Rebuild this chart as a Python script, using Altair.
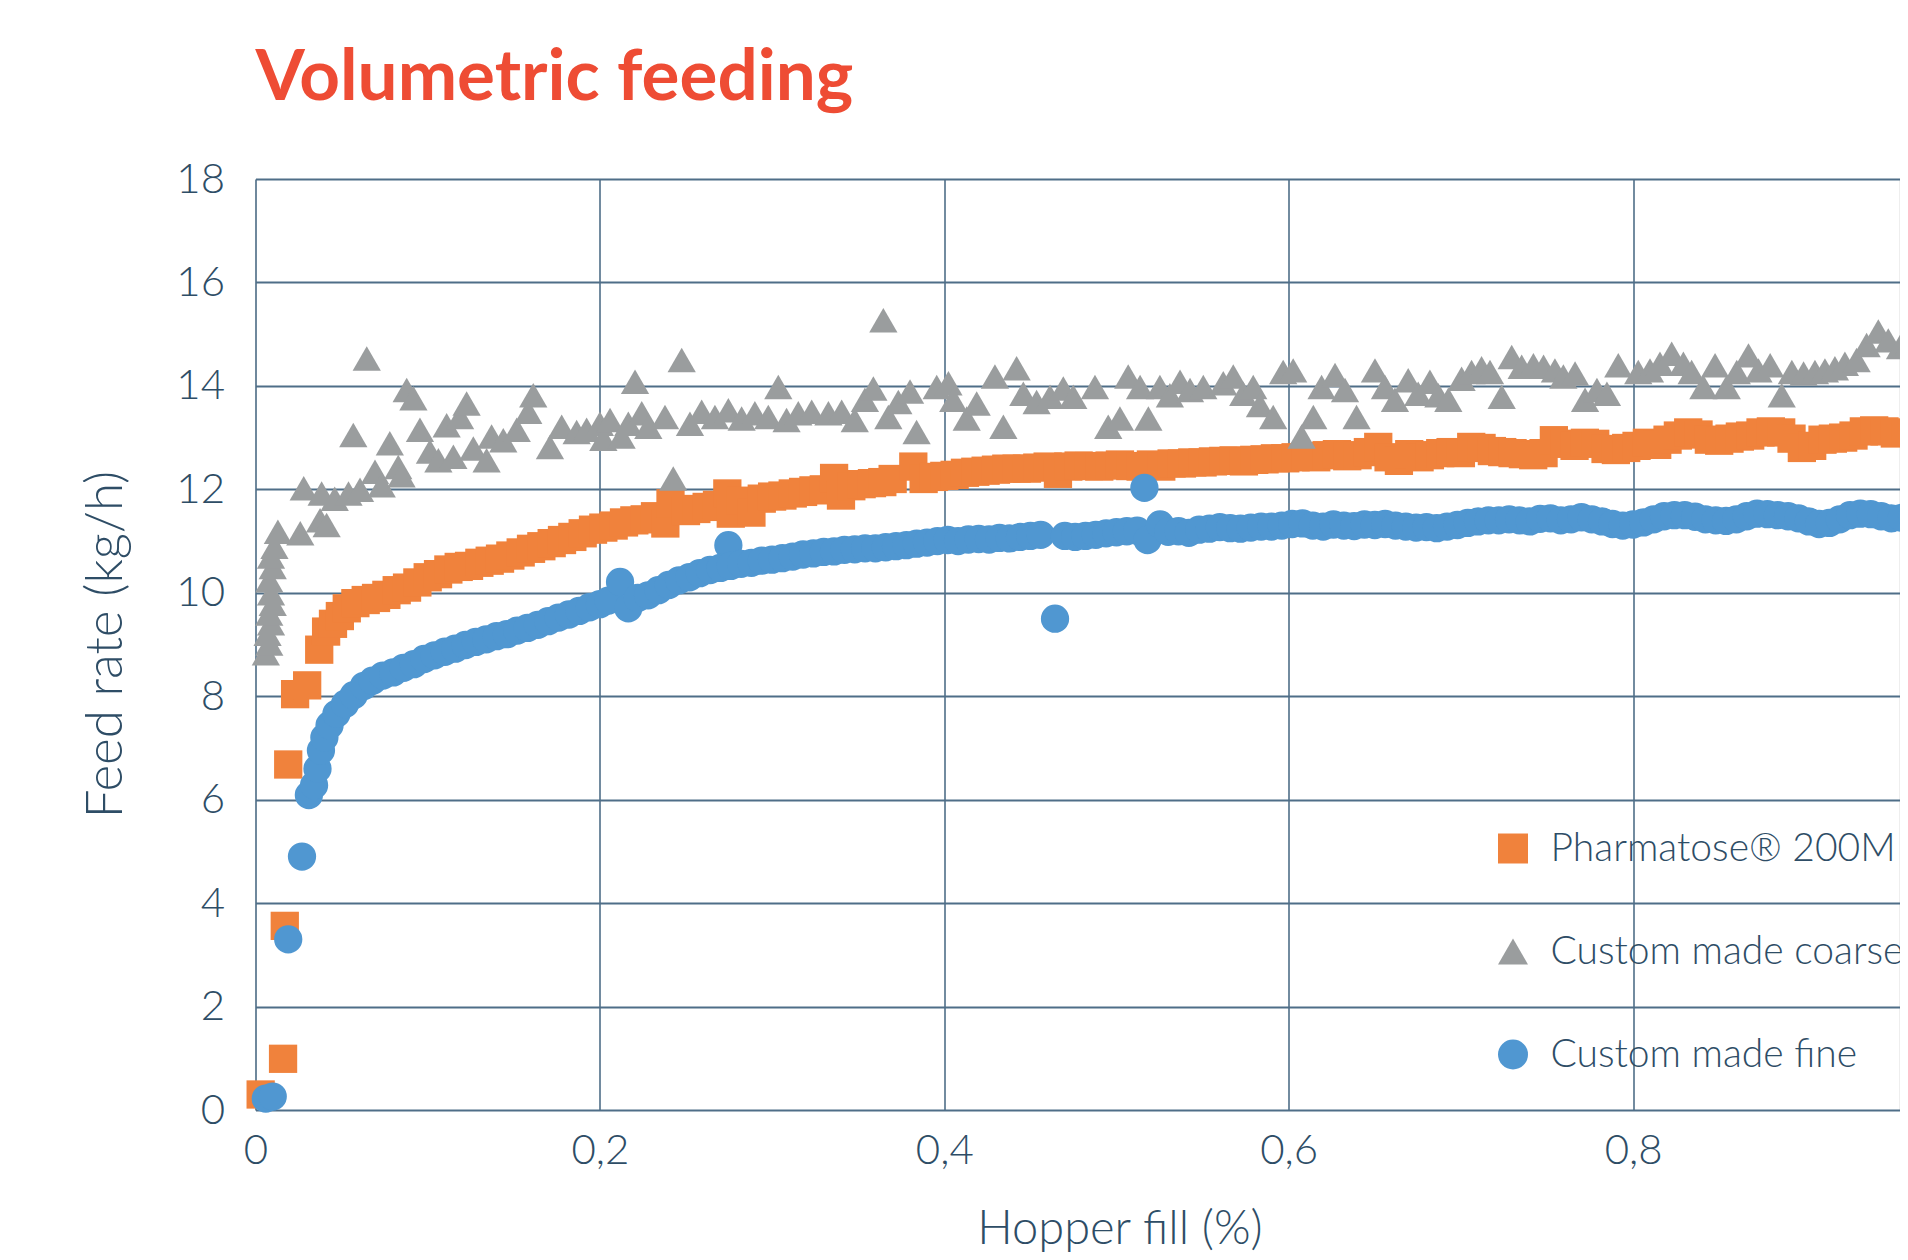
import altair as alt
import pandas as pd

# ---------------- data ----------------
series_names = ["Pharmatose® 200M", "Custom made coarse", "Custom made fine"]
series_colors = ["#F0823C", "#9A9D9E", "#5097D1"]
series_shapes = ["square", "triangle-up", "circle"]

pharma_x = [0.003, 0.016, 0.017, 0.019, 0.023, 0.030, 0.037, 0.041, 0.045, 0.049, 0.053, 0.058,
            0.064, 0.070, 0.076, 0.082, 0.088, 0.094, 0.100, 0.106, 0.112, 0.118, 0.124, 0.130,
            0.136, 0.142, 0.148, 0.154, 0.160, 0.166, 0.172, 0.178, 0.184, 0.190, 0.196, 0.202,
            0.208, 0.214, 0.220, 0.226, 0.232, 0.238, 0.241, 0.250, 0.256, 0.262, 0.268, 0.274,
            0.276, 0.282, 0.288, 0.294, 0.300, 0.306, 0.312, 0.318, 0.324, 0.330, 0.336, 0.340,
            0.346, 0.352, 0.358, 0.364, 0.370, 0.382, 0.388, 0.394, 0.400, 0.406, 0.412, 0.418,
            0.424, 0.430, 0.436, 0.442, 0.448, 0.454, 0.460, 0.466, 0.472, 0.478, 0.484, 0.490,
            0.496, 0.502, 0.508, 0.514, 0.520, 0.526, 0.532, 0.538, 0.544, 0.550, 0.556, 0.562,
            0.568, 0.574, 0.580, 0.586, 0.592, 0.598, 0.604, 0.610, 0.616, 0.622, 0.628, 0.634,
            0.640, 0.646, 0.652, 0.658, 0.664, 0.670, 0.676, 0.682, 0.688, 0.694, 0.700, 0.706,
            0.712, 0.718, 0.724, 0.730, 0.736, 0.742, 0.748, 0.754, 0.760, 0.766, 0.772, 0.778,
            0.784, 0.790, 0.796, 0.802, 0.808, 0.814, 0.820, 0.826, 0.832, 0.838, 0.844, 0.850,
            0.856, 0.862, 0.868, 0.874, 0.880, 0.886, 0.892, 0.898, 0.904, 0.910, 0.916, 0.922,
            0.928, 0.934, 0.940, 0.946, 0.952, 0.958]
pharma_y = [0.30, 0.99, 3.56, 6.68, 8.04, 8.21, 8.90, 9.25, 9.40, 9.55, 9.70, 9.80,
            9.86, 9.90, 9.96, 10.05, 10.10, 10.20, 10.30, 10.36, 10.45, 10.50, 10.52, 10.58,
            10.62, 10.66, 10.72, 10.78, 10.85, 10.90, 10.96, 11.02, 11.08, 11.15, 11.22, 11.26,
            11.30, 11.36, 11.40, 11.42, 11.48, 11.34, 11.73, 11.58, 11.62, 11.66, 11.70, 11.92,
            11.53, 11.78, 11.55, 11.82, 11.86, 11.88, 11.92, 11.95, 11.98, 12.00, 12.22, 11.88,
            12.06, 12.10, 12.12, 12.14, 12.20, 12.44, 12.20, 12.24, 12.26, 12.28, 12.32, 12.34,
            12.36, 12.38, 12.40, 12.40, 12.40, 12.42, 12.44, 12.30, 12.44, 12.46, 12.45, 12.44,
            12.46, 12.48, 12.45, 12.44, 12.48, 12.44, 12.50, 12.50, 12.52, 12.52, 12.54, 12.55,
            12.56, 12.54, 12.57, 12.58, 12.60, 12.60, 12.62, 12.64, 12.62, 12.66, 12.68, 12.64,
            12.66, 12.72, 12.82, 12.62, 12.55, 12.68, 12.62, 12.66, 12.70, 12.72, 12.70, 12.82,
            12.80, 12.74, 12.72, 12.70, 12.68, 12.66, 12.70, 12.95, 12.88, 12.84, 12.90, 12.88,
            12.78, 12.76, 12.80, 12.84, 12.90, 12.86, 12.96, 13.04, 13.10, 13.06, 12.96, 12.94,
            12.98, 13.02, 13.04, 13.10, 13.12, 13.10, 12.98, 12.80, 12.84, 12.96, 12.98, 13.00,
            13.04, 13.12, 13.14, 13.12, 13.08, 13.10]

coarse_x = [0.006, 0.008, 0.007, 0.009, 0.008, 0.010, 0.009, 0.008, 0.010, 0.009, 0.011, 0.013,
            0.026, 0.028, 0.0375, 0.0384, 0.0413, 0.046, 0.054, 0.0568, 0.0607, 0.0646, 0.0694,
            0.0733, 0.078, 0.0829, 0.0848, 0.0878, 0.0917, 0.0955, 0.1013, 0.1062, 0.111, 0.1149,
            0.1188, 0.1226, 0.1265, 0.1342, 0.1371, 0.1439, 0.1517, 0.1584, 0.1613, 0.171, 0.1778,
            0.1865, 0.1923, 0.200, 0.202,
            0.2059, 0.2126, 0.2165, 0.2204, 0.2243, 0.2281, 0.2378, 0.2426, 0.2475, 0.2523,
            0.2591, 0.2668, 0.2746, 0.2823, 0.290, 0.2978, 0.3036, 0.3084, 0.3152, 0.323, 0.3327,
            0.3404, 0.348, 0.3539, 0.3588, 0.3646, 0.3675, 0.3733, 0.3801, 0.3839, 0.3956, 0.4024,
            0.4052, 0.413, 0.4188, 0.4294, 0.4343, 0.442, 0.4459, 0.4536, 0.4614, 0.4691, 0.4749,
            0.4875, 0.4952, 0.502, 0.5068, 0.5137, 0.5185, 0.5252, 0.531, 0.5369, 0.5427, 0.5504,
            0.562, 0.5678, 0.5736, 0.5794, 0.5833, 0.591, 0.5968, 0.6026,
            0.6075, 0.6143, 0.6191, 0.6269, 0.6327, 0.6394, 0.6501, 0.6559, 0.6617, 0.6694,
            0.6752, 0.682, 0.6869, 0.6927, 0.7004, 0.7062, 0.712, 0.7169, 0.7237, 0.7295, 0.7353,
            0.7421, 0.748, 0.7546, 0.7595, 0.7663, 0.7721, 0.779, 0.7848, 0.7914, 0.803,
            0.8098, 0.8156, 0.8224, 0.8292, 0.834, 0.8408, 0.8476, 0.8544, 0.8602, 0.867, 0.8728,
            0.8796, 0.8863, 0.8922, 0.899, 0.9056, 0.9114, 0.9172, 0.923, 0.9298, 0.9356, 0.9424,
            0.9482, 0.955, 0.9597]
coarse_y = [8.83, 9.02, 9.21, 9.41, 9.60, 9.79, 9.99, 10.24, 10.50, 10.70, 10.89, 11.18,
            11.15, 12.02, 11.40, 11.92, 11.31, 11.82, 11.92, 13.05, 11.99, 14.53, 12.34,
            12.08, 12.89, 12.43, 12.27, 13.92, 13.76, 13.15, 12.73, 12.56, 13.24, 12.63,
            13.40, 13.66, 12.79, 12.56, 13.02, 12.95, 13.15, 13.50, 13.82, 12.82, 13.21,
            13.11, 13.15, 13.27, 12.98,
            13.34, 13.02, 13.27, 14.08, 13.47, 13.21, 13.40, 12.21, 14.50, 13.27,
            13.50, 13.40, 13.53, 13.37, 13.47, 13.40, 13.98, 13.34, 13.47, 13.50, 13.47,
            13.50, 13.34, 13.73, 13.95, 15.27, 13.40, 13.69, 13.89, 13.11, 13.98, 14.05,
            13.73, 13.37, 13.66, 14.18, 13.21, 14.34, 13.85, 13.69, 13.79, 13.95, 13.79,
            13.98, 13.21, 13.37, 14.18, 13.98, 13.37, 13.98, 13.82, 14.08, 13.92, 13.98,
            14.05, 14.18, 13.85, 13.98, 13.63, 13.40, 14.27, 14.30,
            13.02, 13.40, 13.98, 14.21, 13.92, 13.40, 14.30, 13.98, 13.73, 14.11,
            13.85, 14.08, 13.82, 13.73, 14.14, 14.27, 14.34, 14.27, 13.79, 14.56, 14.37,
            14.40, 14.37, 14.30, 14.18, 14.24, 13.73, 13.92, 13.85, 14.40, 14.27,
            14.30, 14.43, 14.62, 14.43, 14.27, 13.98, 14.40, 13.98, 14.27, 14.59, 14.30,
            14.40, 13.82, 14.27, 14.24, 14.27, 14.30, 14.34, 14.43, 14.50, 14.79, 15.05,
            14.88, 14.75, 14.79]

fine_x = [0.006, 0.010, 0.019, 0.027, 0.031, 0.034, 0.036, 0.038, 0.040, 0.043, 0.047, 0.052,
          0.057, 0.063, 0.068, 0.074, 0.080, 0.086, 0.092, 0.098, 0.104, 0.110, 0.116, 0.122,
          0.128, 0.134, 0.140, 0.146, 0.152, 0.158, 0.164, 0.170, 0.176, 0.182, 0.188, 0.194,
          0.200, 0.205, 0.2117, 0.2165, 0.222, 0.228, 0.234, 0.240, 0.246, 0.252, 0.258, 0.264,
          0.2746, 0.270, 0.276, 0.282, 0.288, 0.294, 0.300, 0.306, 0.312, 0.318, 0.324, 0.330,
          0.336, 0.342, 0.348, 0.354, 0.360, 0.366, 0.372, 0.378, 0.384, 0.390, 0.396, 0.402,
          0.408, 0.414, 0.420, 0.426, 0.432, 0.438, 0.444, 0.450, 0.456, 0.4643, 0.470, 0.476,
          0.482, 0.488, 0.494, 0.500, 0.506, 0.512, 0.5162, 0.518, 0.5253, 0.530, 0.536, 0.542,
          0.548, 0.554, 0.560, 0.566, 0.572, 0.578, 0.584, 0.590, 0.596, 0.602, 0.608, 0.614,
          0.620, 0.626, 0.632, 0.638, 0.644, 0.650, 0.656, 0.662, 0.668, 0.674, 0.680, 0.686,
          0.692, 0.698, 0.704, 0.710, 0.716, 0.722, 0.728, 0.734, 0.740, 0.746, 0.752, 0.758,
          0.764, 0.770, 0.776, 0.782, 0.788, 0.794, 0.800, 0.806, 0.812, 0.818, 0.824, 0.830,
          0.836, 0.842, 0.848, 0.854, 0.860, 0.866, 0.872, 0.878, 0.884, 0.890, 0.896, 0.902,
          0.908, 0.914, 0.920, 0.926, 0.932, 0.938, 0.944, 0.950, 0.956, 0.962]
fine_y = [0.22, 0.26, 3.30, 4.90, 6.09, 6.28, 6.60, 6.95, 7.20, 7.44, 7.66, 7.85,
          8.02, 8.20, 8.30, 8.40, 8.46, 8.55, 8.62, 8.72, 8.79, 8.86, 8.92, 8.99,
          9.05, 9.10, 9.16, 9.20, 9.27, 9.32, 9.38, 9.45, 9.52, 9.58, 9.65, 9.72,
          9.78, 9.85, 10.21, 9.70, 9.90, 9.95, 10.05, 10.15, 10.24, 10.30, 10.38, 10.44,
          10.92, 10.48, 10.52, 10.56, 10.58, 10.62, 10.64, 10.67, 10.70, 10.74, 10.76, 10.79,
          10.80, 10.83, 10.84, 10.86, 10.86, 10.88, 10.90, 10.92, 10.95, 10.97, 11.00, 11.02,
          11.00, 11.03, 11.04, 11.03, 11.06, 11.05, 11.08, 11.10, 11.12, 9.50, 11.10, 11.08,
          11.10, 11.12, 11.15, 11.17, 11.19, 11.20, 12.03, 11.02, 11.32, 11.18, 11.19, 11.16,
          11.22, 11.24, 11.27, 11.25, 11.24, 11.26, 11.28, 11.28, 11.30, 11.33, 11.34, 11.30,
          11.28, 11.32, 11.30, 11.29, 11.32, 11.31, 11.33, 11.30, 11.28, 11.26, 11.27, 11.25,
          11.28, 11.31, 11.35, 11.38, 11.40, 11.40, 11.42, 11.40, 11.38, 11.43, 11.44, 11.40,
          11.42, 11.46, 11.42, 11.38, 11.33, 11.30, 11.32, 11.36, 11.42, 11.48, 11.50, 11.50,
          11.47, 11.42, 11.40, 11.39, 11.42, 11.48, 11.53, 11.52, 11.50, 11.48, 11.44, 11.38,
          11.33, 11.35, 11.42, 11.50, 11.53, 11.52, 11.48, 11.44, 11.45, 11.47]

x_ticks = [0, 0.2, 0.4, 0.6, 0.8]
y_ticks = [0, 2, 4, 6, 8, 10, 12, 14, 16, 18]

# ---------------- table ----------------
rows = []
for name, xs, ys in [(series_names[0], pharma_x, pharma_y),
                     (series_names[1], coarse_x, coarse_y),
                     (series_names[2], fine_x, fine_y)]:
    for xv, yv in zip(xs, ys):
        rows.append({"series": name, "fill": xv, "rate": yv})
df = pd.DataFrame(rows)
df["order"] = df["series"].map({n: i for i, n in enumerate(series_names)})

FONT = "Lato"
TEXT = "#2E4D66"
GRID = "#4F6E88"

PLOT_W = 1644
PLOT_H = 931
X_MAX = PLOT_W / 1722.0

legend_cfg = dict(title=None, orient="none", legendX=1238, legendY=650,
                  symbolSize=900, symbolStrokeWidth=0, symbolOpacity=1,
                  labelFont=FONT, labelFontSize=39, labelFontWeight=300,
                  labelColor=TEXT, labelOffset=18, rowPadding=63,
                  padding=0, labelLimit=0)

chart = alt.Chart(df).mark_point(filled=True, opacity=1, size=800, strokeWidth=0).encode(
    x=alt.X("fill:Q",
            scale=alt.Scale(domain=[0, X_MAX], nice=False, zero=False),
            axis=alt.Axis(values=x_ticks, title="Hopper fill (%)",
                          labelExpr="replace(toString(datum.value), '.', ',')",
                          labelFlush=False,
                          grid=True, gridColor=GRID, gridWidth=1.6, gridOpacity=1,
                          domain=False, ticks=False,
                          labelFont=FONT, labelFontSize=42, labelFontWeight=300,
                          labelColor=TEXT, labelPadding=20,
                          titleFont=FONT, titleFontSize=47, titleFontWeight=300,
                          titleColor=TEXT, titleX=864, titleY=119,
                          titleAlign="center", titleBaseline="middle")),
    y=alt.Y("rate:Q",
            scale=alt.Scale(domain=[0, 18], nice=False),
            axis=alt.Axis(values=y_ticks, title="Feed rate (kg/h)",
                          grid=True, gridColor=GRID, gridWidth=2, gridOpacity=1,
                          domain=False, ticks=False,
                          labelFont=FONT, labelFontSize=42, labelFontWeight=300,
                          labelColor=TEXT, labelPadding=31,
                          titleFont=FONT, titleFontSize=51, titleFontWeight=300,
                          titleColor=TEXT, titleX=-149, titleY=465,
                          titleAngle=270, titleAlign="center", titleBaseline="middle")),
    color=alt.Color("series:N",
                    scale=alt.Scale(domain=series_names, range=series_colors),
                    legend=alt.Legend(**legend_cfg)),
    shape=alt.Shape("series:N",
                    scale=alt.Scale(domain=series_names, range=series_shapes),
                    legend=alt.Legend(**legend_cfg)),
    order=alt.Order("order:Q"),
).properties(
    width=PLOT_W,
    height=PLOT_H,
    title=alt.TitleParams("Volumetric feeding", anchor="start", frame="group",
                          font=FONT, fontSize=71, fontWeight="bold", color="#EE4C34",
                          offset=-13, baseline="alphabetic"),
    autosize=alt.AutoSizeParams(type="none"),
    padding={"left": 247.5, "top": 171, "right": 0, "bottom": 142},
).configure_view(stroke=None).configure(background="white")

chart.save("out.html", embed_options={"renderer": "svg", "actions": False})
